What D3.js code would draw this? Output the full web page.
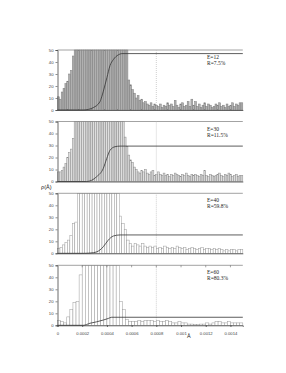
<!DOCTYPE html>
<html>
<head>
<meta charset="utf-8">
<script src="https://cdn.jsdelivr.net/npm/d3@7"></script>
<style>
  body { margin: 0; background: #fff; }
  svg { display: block; }
</style>
</head>
<body>
<script>
// tick values / labels
const xTicks = [0, 0.0002, 0.0004, 0.0006, 0.0008, 0.001, 0.0012, 0.0014];
const xTickLabels = ["0", "0.0002", "0.0004", "0.0006", "0.0008", "0.001", "0.0012", "0.0014"];
const yTicks = [0, 10, 20, 30, 40, 50];
const markX = 0.0008;

// panel labels
const energies = ["E=12", "E=30", "E=40", "E=60"];
const ratios = ["R=7.5%", "R=11.5%", "R=59.8%", "R=80.3%"];

// histogram bin widths (Å)
const binWidths = [0.000015, 0.000015, 0.00002, 0.000025];

// histogram counts (values at 50 run off the top)
const counts1 = [11, 9, 15, 18, 22, 24, 30, 33, 45,
  50, 50, 50, 50, 50, 50, 50, 50, 50, 50, 50, 50, 50, 50, 50, 50, 50, 50, 50, 50, 50, 50, 50, 50, 50, 50, 50, 50, 50,
  25, 21, 17, 14, 10, 12, 8, 9, 6, 7,
  5, 4, 6, 3, 5, 4, 3, 5, 2, 4, 3, 6, 4, 5, 3, 8, 4, 2, 5, 6, 3, 4, 7, 3, 9, 4, 7, 3, 5, 2,
  4, 6, 3, 5, 4, 2, 3, 5, 4, 6, 3, 4, 2, 5, 3, 4, 6, 3, 5, 4, 6, 6];
const counts2 = [8, 8, 9, 12, 15, 20, 24, 27, 36,
  50, 50, 50, 50, 50, 50, 50, 50, 50, 50, 50, 50, 50, 50, 50, 50, 50, 50, 50, 50, 50, 50, 50, 50, 50, 50, 50,
  37, 29, 22, 18, 16, 12, 10, 8, 7, 9, 8, 10, 7, 6, 8, 9, 5, 6, 8,
  6, 5, 7, 5, 6, 4, 6, 5, 7, 6, 5, 4, 6, 5, 7, 5, 4, 6, 5, 6, 5, 4, 6, 5, 9,
  5, 4, 6, 5, 4, 5, 6, 7, 5, 4, 6, 5, 7, 6, 4, 5, 6, 4, 5, 5];
const counts3 = [4, 5, 7, 9, 11, 15, 25, 26,
  50, 50, 50, 50, 50, 50, 50, 50, 50, 50, 50, 50, 50, 50, 50, 50, 50,
  31, 25, 20, 11, 8, 6, 8, 7, 6, 8, 6, 5, 6, 5, 6, 4,
  5, 4, 6, 5, 4, 5, 4, 6, 5, 4, 5, 3, 4, 5, 4, 3, 4, 5, 3, 4, 4, 3, 4, 3, 4, 3, 2, 3, 2, 3, 3, 2, 3, 3];
const counts4 = [4, 3, 2, 7, 13, 19, 20, 42,
  50, 50, 50, 50, 50, 50, 50, 50, 50, 50, 50, 50,
  20, 13, 5, 3,
  3, 3, 4, 3, 4, 4, 4, 3, 4, 3, 3, 4, 3, 2, 2, 3, 2, 2, 1, 1, 0.5, 0.5, 1, 1, 2, 1, 2, 3, 3, 2, 2, 3, 2, 2, 2, 2];

// cumulative curves
const curveX1 = [0, 0.00021, 0.00025, 0.00029, 0.000344, 0.000358, 0.000385, 0.0004, 0.000425, 0.000452, 0.000493, 0.00052, 0.0015];
const curveY1 = [0, 0, 0.5, 2, 7, 11, 21, 27, 37, 42, 46, 47, 47];
const curveX2 = [0, 0.000236, 0.000317, 0.000371, 0.000398, 0.000425, 0.000466, 0.000506, 0.0015];
const curveY2 = [0, 0, 4, 11, 19, 26, 29, 29.5, 29.5];
const curveX3 = [0, 0.00022, 0.00029, 0.000344, 0.000371, 0.000411, 0.000452, 0.000506, 0.0015];
const curveY3 = [0, 0, 0.5, 2.8, 5.5, 11, 14.4, 15.3, 15.3];
const curveX4 = [0, 0.00021, 0.000263, 0.000317, 0.000371, 0.000411, 0.000439, 0.0015];
const curveY4 = [0, 0, 1.7, 2.9, 4.4, 5.7, 6.7, 6.7];

const width = 286, height = 373;
const left = 57.5, right = 242.8;
const panelTops = [50, 121.5, 193.3, 265.3];
const panelH = 60;

const panels = [
  {counts: counts1, cx: curveX1, cy: curveY1, fill: "#b0b0b0", stroke: "#7c7c7c"},
  {counts: counts2, cx: curveX2, cy: curveY2, fill: "#dedede", stroke: "#8a8a8a"},
  {counts: counts3, cx: curveX3, cy: curveY3, fill: "#ffffff", stroke: "#9a9a9a"},
  {counts: counts4, cx: curveX4, cy: curveY4, fill: "#ffffff", stroke: "#9a9a9a"}
];

const x = d3.scaleLinear().domain([0, 0.0015]).range([left, right]);

const svg = d3.select("body").append("svg")
  .attr("width", width)
  .attr("height", height)
  .style("font-family", "'Liberation Sans', Arial, sans-serif");

panels.forEach((p, k) => {
  const top = panelTops[k];
  const y = d3.scaleLinear().domain([0, 50]).range([top + panelH, top]).clamp(true);
  const g = svg.append("g");
  const bw = binWidths[k];

  // bars
  g.selectAll("rect")
    .data(p.counts)
    .join("rect")
    .attr("x", (d, i) => x(i * bw))
    .attr("width", x(bw) - x(0))
    .attr("y", d => y(d))
    .attr("height", d => y(0) - y(d))
    .attr("fill", p.fill)
    .attr("stroke", p.stroke)
    .attr("stroke-width", 0.5);

  // top border line
  g.append("line")
    .attr("x1", x(0)).attr("x2", right)
    .attr("y1", y(50)).attr("y2", y(50))
    .attr("stroke", "#8c8c8c").attr("stroke-width", 0.8);

  // dotted marker
  g.append("line")
    .attr("x1", x(markX)).attr("x2", x(markX))
    .attr("y1", y(50)).attr("y2", y(0))
    .attr("stroke", "#bbb").attr("stroke-width", 0.7)
    .attr("stroke-dasharray", "1,1");

  // cumulative curve
  const line = d3.line()
    .x((d, i) => x(p.cx[i]))
    .y(d => y(d))
    .curve(d3.curveMonotoneX);
  g.append("path")
    .attr("d", line(p.cy))
    .attr("fill", "none")
    .attr("stroke", "#333")
    .attr("stroke-width", 0.8);

  // y axis
  const yAxis = d3.axisLeft(y).tickValues(yTicks).tickSize(2).tickPadding(2);
  const ya = g.append("g").attr("transform", `translate(${left},0)`).call(yAxis);
  ya.select(".domain").attr("stroke", "#444").attr("stroke-width", 0.8);
  ya.selectAll(".tick line").attr("stroke", "#444").attr("stroke-width", 0.6);
  ya.selectAll("text").attr("font-size", 4.2).attr("fill", "#444");

  // x axis line
  const xAxis = d3.axisBottom(x).tickValues(xTicks).tickSize(k === 3 ? 1.5 : 0)
    .tickFormat((d, i) => k === 3 ? xTickLabels[i] : "").tickPadding(5);
  const xa = g.append("g").attr("transform", `translate(0,${y(0)})`).call(xAxis);
  xa.select(".domain").attr("stroke", "#444").attr("stroke-width", 0.8);
  xa.selectAll(".tick line").attr("stroke", "#444");
  xa.selectAll("text").attr("font-size", 4.2).attr("fill", "#444");

  if (k === 3) {
    // small ticks hanging from top line
    g.selectAll(".toptick")
      .data(xTicks.slice(1))
      .join("line")
      .attr("x1", d => x(d)).attr("x2", d => x(d))
      .attr("y1", y(50)).attr("y2", y(50) + 2)
      .attr("stroke", "#666").attr("stroke-width", 0.6);
  }

  // labels
  g.append("text")
    .attr("x", 207).attr("y", top + 9)
    .attr("font-family", "'Liberation Serif', serif")
    .attr("font-size", 5.5).attr("fill", "#222")
    .text(energies[k]);
  g.append("text")
    .attr("x", 207).attr("y", top + 15)
    .attr("font-family", "'Liberation Serif', serif")
    .attr("font-size", 5.5).attr("fill", "#222")
    .text(ratios[k]);
});

// axis titles
svg.append("text")
  .attr("x", 41).attr("y", 189)
  .attr("font-size", 5.5).attr("fill", "#222")
  .text("ρ(Å)");
svg.append("text")
  .attr("x", 187).attr("y", 338)
  .attr("font-size", 5.5).attr("fill", "#222")
  .text("Å");
</script>
</body>
</html>
